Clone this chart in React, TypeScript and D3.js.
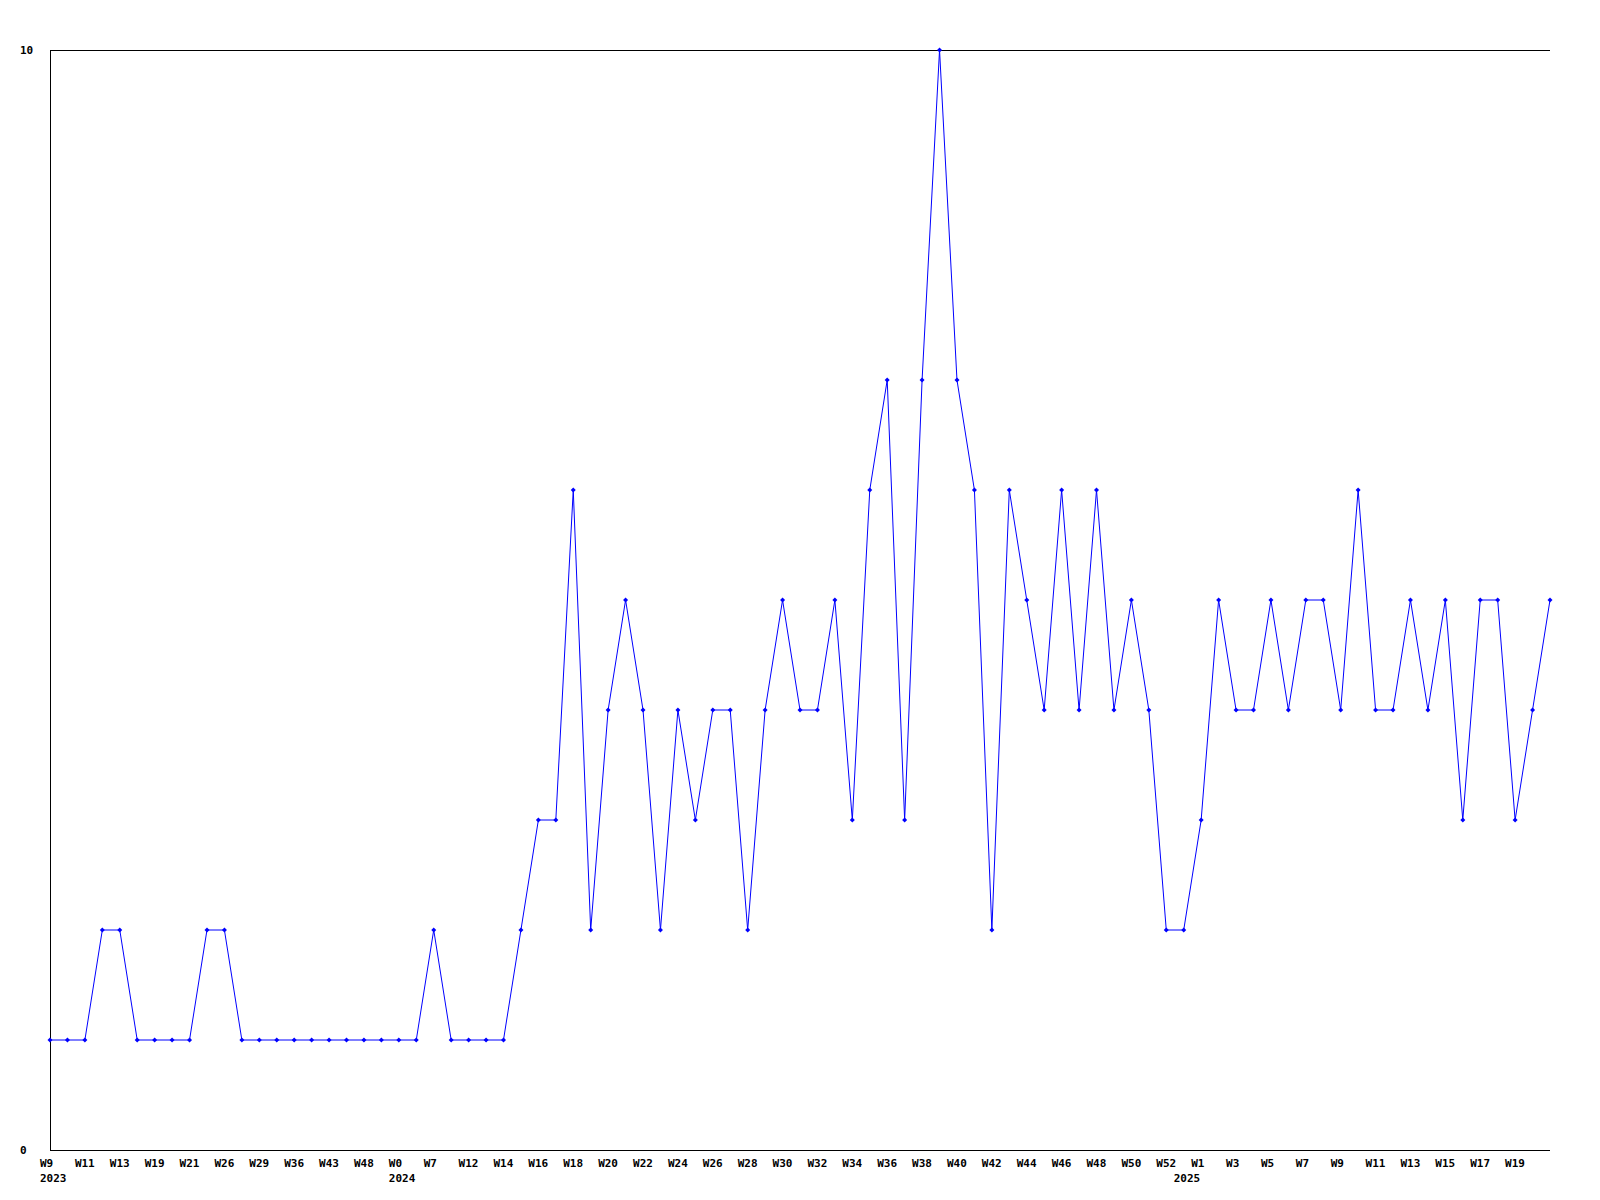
import React from "react";
import * as d3 from "d3";

const categories: string[] = [
  "W9", "W10", "W11", "W12", "W13", "W17", "W19", "W20", "W21", "W25",
  "W26", "W28", "W29", "W33", "W36", "W40", "W43", "W46", "W48", "W50",
  "W0", "W5", "W7", "W10", "W12", "W13", "W14", "W15", "W16", "W17",
  "W18", "W19", "W20", "W21", "W22", "W23", "W24", "W25", "W26", "W27",
  "W28", "W29", "W30", "W31", "W32", "W33", "W34", "W35", "W36", "W37",
  "W38", "W39", "W40", "W41", "W42", "W43", "W44", "W45", "W46", "W47",
  "W48", "W49", "W50", "W51", "W52", "W0", "W1", "W2", "W3", "W4",
  "W5", "W6", "W7", "W8", "W9", "W10", "W11", "W12", "W13", "W14",
  "W15", "W16", "W17", "W18", "W19", "W20", "W21",
];

const values: number[] = [
  1, 1, 1, 2, 2, 1, 1, 1, 1, 2,
  2, 1, 1, 1, 1, 1, 1, 1, 1, 1,
  1, 1, 2, 1, 1, 1, 1, 2, 3, 3,
  6, 2, 4, 5, 4, 2, 4, 3, 4, 4,
  2, 4, 5, 4, 4, 5, 3, 6, 7, 3,
  7, 10, 7, 6, 2, 6, 5, 4, 6, 4,
  6, 4, 5, 4, 2, 2, 3, 5, 4, 4,
  5, 4, 5, 5, 4, 6, 4, 4, 5, 4,
  5, 3, 5, 5, 3, 4, 5,
];

const yearLabels: string[] = ["2023", "2024", "2025"];
const yearStartIndex: number[] = [0, 20, 65];

const yTicks: number[] = [0, 10];

const W = 1600;
const H = 1200;
const left = 50;
const right = 1550;
const top = 50;
const bottom = 1150;
const FONT = "'DejaVu Sans Mono', monospace";

export default function App() {
  const idx = categories.map((_, i) => i);
  const x = d3.scalePoint<number>().domain(idx).range([left, right]);
  const y = d3.scaleLinear().domain([0, 10]).range([bottom, top]);
  const line = d3
    .line<number>()
    .x((_, i) => x(i) as number)
    .y((d) => y(d));
  const path = line(values) || "";
  const r = 2.5;

  return (
    <svg
      width={W}
      height={H}
      style={{ position: "absolute", left: 0, top: 0, background: "#fff" }}
    >
      <rect x={0} y={0} width={W} height={H} fill="#fff" />
      {/* axes */}
      <line x1={left} y1={top + 0.5} x2={right} y2={top + 0.5} stroke="#000" strokeWidth={1} />
      <line x1={left + 0.5} y1={top} x2={left + 0.5} y2={bottom} stroke="#000" strokeWidth={1} />
      <line x1={left} y1={bottom + 0.5} x2={right} y2={bottom + 0.5} stroke="#000" strokeWidth={1} />
      {/* y labels */}
      {yTicks.map((t) => (
        <text
          key={t}
          x={20}
          y={y(t) + 4}
          fontFamily={FONT}
          fontWeight="bold"
          fontSize={11}
          fill="#000"
        >
          {t}
        </text>
      ))}
      {/* x labels */}
      {categories.map((c, i) =>
        i % 2 === 0 && i < categories.length - 1 ? (
          <text
            key={"c" + i}
            x={(x(i) as number) - 10}
            y={1167}
            fontFamily={FONT}
            fontWeight="bold"
            fontSize={11}
            fill="#000"
          >
            {c}
          </text>
        ) : null
      )}
      {yearLabels.map((yl, k) => (
        <text
          key={"y" + k}
          x={(x(yearStartIndex[k]) as number) - 10}
          y={1182}
          fontFamily={FONT}
          fontWeight="bold"
          fontSize={11}
          fill="#000"
        >
          {yl}
        </text>
      ))}
      {/* series */}
      <path d={path} fill="none" stroke="#0000ff" strokeWidth={1} />
      {values.map((v, i) => {
        const cx = x(i) as number;
        const cy = y(v);
        return (
          <polygon
            key={"p" + i}
            points={`${cx},${cy - r} ${cx + r},${cy} ${cx},${cy + r} ${cx - r},${cy}`}
            fill="#0000ff"
          />
        );
      })}
    </svg>
  );
}
